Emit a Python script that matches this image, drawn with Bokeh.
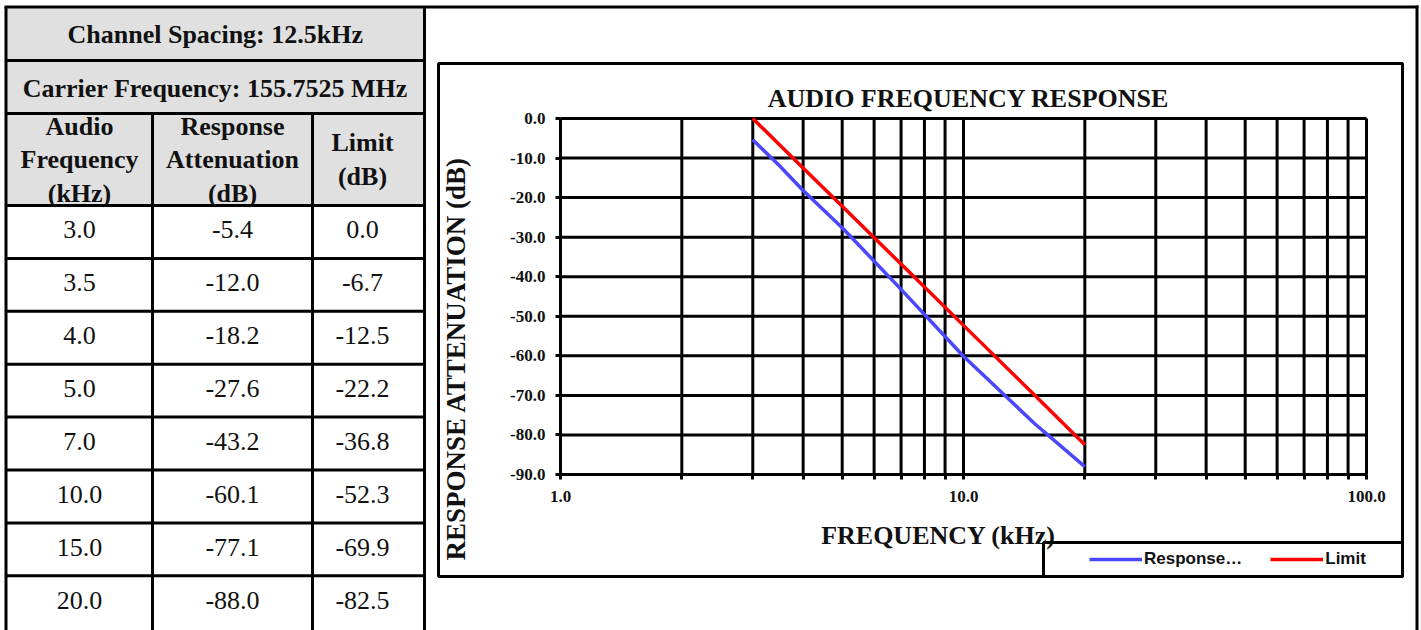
from math import pi, log10
from bokeh.plotting import figure
from bokeh.models import (Range1d, LinearScale, FixedTicker, PrintfTickFormatter, Grid,
                          Label, BoxAnnotation, Legend, LegendItem, LogAxis, LinearAxis)
from bokeh.core.properties import value
from bokeh.embed import file_html
from bokeh.resources import INLINE

# ---------------- data ----------------
channel_spacing = "Channel Spacing: 12.5kHz"
carrier_frequency = "Carrier Frequency: 155.7525 MHz"
col_headers = [["Audio", "Frequency", "(kHz)"],
               ["Response", "Attenuation", "(dB)"],
               ["Limit", "(dB)"]]
freq_khz = [3.0, 3.5, 4.0, 5.0, 7.0, 10.0, 15.0, 20.0]
response_db = [-5.4, -12.0, -18.2, -27.6, -43.2, -60.1, -77.1, -88.0]
limit_db = [0.0, -6.7, -12.5, -22.2, -36.8, -52.3, -69.9, -82.5]
series_names = ["Response\u2026", "Limit"]
x_major_ticks = [1, 10, 100]
x_minor_ticks = [2, 3, 4, 5, 6, 7, 8, 9, 20, 30, 40, 50, 60, 70, 80, 90]
y_ticks = [0, -10, -20, -30, -40, -50, -60, -70, -80, -90]
chart_title = "AUDIO FREQUENCY RESPONSE"
x_title = "FREQUENCY (kHz)"
y_title = "RESPONSE ATTENUATION (dB)"

# ---------------- layout constants (page pixels) ----------------
SERIF = "Liberation Serif"
CAN_L, CAN_R, CAN_T, CAN_B = 0, 1421, 0, 630
PLOT_L, PLOT_R, PLOT_T, PLOT_B = 560, 1366, 118, 474
X_MIN, X_MAX = x_major_ticks[0], x_major_ticks[-1]
Y_MIN, Y_MAX = y_ticks[-1], y_ticks[0]
COL_EDGES = [5.5, 152, 312, 424]
COL_CENTERS = [79, 232, 362]
HEAD_EDGES = [6.5, 60, 113, 205]
ROW_H = 52.9
LW = 3
INK = "#111111"

# main (data) ranges chosen so that the plot area lands on PLOT_* pixels
dec_px = (PLOT_R - PLOT_L) / (log10(X_MAX) - log10(X_MIN))
x_start = 10 ** (log10(X_MIN) - (PLOT_L - CAN_L) / dec_px)
x_end = 10 ** (log10(X_MAX) + (CAN_R - PLOT_R) / dec_px)
db_px = (Y_MAX - Y_MIN) / (PLOT_B - PLOT_T)
y_start = Y_MIN - (CAN_B - PLOT_B) * db_px
y_end = Y_MAX + (PLOT_T - CAN_T) * db_px

p = figure(width=CAN_R - CAN_L, height=CAN_B - CAN_T, title=None,
           x_axis_type="log", x_range=Range1d(x_start, x_end),
           y_range=Range1d(y_start, y_end),
           x_axis_location=None, y_axis_location=None, min_border=0,
           output_backend="svg", toolbar_location=None)
p.min_border_left = p.min_border_right = p.min_border_top = p.min_border_bottom = 0
p.outline_line_color = None
for r in list(p.center):
    if isinstance(r, Grid):
        r.visible = False
p.extra_x_ranges = {"px": Range1d(CAN_L, CAN_R)}
p.extra_y_ranges = {"py": Range1d(CAN_B, CAN_T)}
p.extra_x_scales = {"px": LinearScale()}
p.extra_y_scales = {"py": LinearScale()}
PX = dict(x_range_name="px", y_range_name="py")

# ---------------- table ----------------
p.quad(left=[COL_EDGES[0]], right=[COL_EDGES[-1]], top=[HEAD_EDGES[0]],
       bottom=[HEAD_EDGES[-1]], fill_color="#e0e0e0", line_color=None, **PX)
n = len(freq_khz)
row_edges = [HEAD_EDGES[-1] + i * ROW_H for i in range(n + 1)]
hx0, hx1, hy = [], [], []
for y in HEAD_EDGES[1:] + row_edges[1:-1]:
    hx0.append(COL_EDGES[0]); hx1.append(COL_EDGES[-1]); hy.append(y)
p.segment(x0=hx0, x1=hx1, y0=hy, y1=hy, line_color="black", line_width=LW, **PX)
vx = [COL_EDGES[0], COL_EDGES[-1], COL_EDGES[1], COL_EDGES[2]]
vy0 = [HEAD_EDGES[0], HEAD_EDGES[0], HEAD_EDGES[2], HEAD_EDGES[2]]
vy1 = [CAN_B] * 4
p.segment(x0=vx, x1=vx, y0=vy0, y1=vy1, line_color="black", line_width=LW, **PX)

mid_x = (COL_EDGES[0] + COL_EDGES[-1]) / 2
p.text(x=[mid_x, mid_x], y=[(HEAD_EDGES[0] + HEAD_EDGES[1]) / 2 + 1,
                           (HEAD_EDGES[1] + HEAD_EDGES[2]) / 2 + 1],
       text=[channel_spacing, carrier_frequency], text_align="center",
       text_baseline="middle", text_font=value(SERIF), text_font_style="bold",
       text_font_size="26px", text_color=INK, **PX)
hx, hyy, ht = [], [], []
head_mid = (HEAD_EDGES[2] + HEAD_EDGES[3]) / 2
for c, lines in enumerate(col_headers):
    k = len(lines)
    for j, t in enumerate(lines):
        hx.append(COL_CENTERS[c])
        hyy.append(head_mid + (j - (k - 1) / 2) * 33.5)
        ht.append(t)
p.text(x=hx, y=hyy, text=ht, text_align="center", text_baseline="middle",
       text_font=value(SERIF), text_font_style="bold", text_font_size="26px",
       text_color=INK, **PX)
cx, cy, ct = [], [], []
for i in range(n):
    yc = row_edges[i] + ROW_H / 2 - 2
    for c, v in enumerate([freq_khz[i], response_db[i], limit_db[i]]):
        cx.append(COL_CENTERS[c]); cy.append(yc); ct.append("%.1f" % v)
p.text(x=cx, y=cy, text=ct, text_align="center", text_baseline="middle",
       text_font=value(SERIF), text_font_size="26px", text_color=INK, **PX)

# ---------------- chart ----------------
grid_x = x_major_ticks + x_minor_ticks
p.segment(x0=grid_x, x1=grid_x, y0=[Y_MIN] * len(grid_x), y1=[Y_MAX] * len(grid_x),
          line_color="black", line_width=LW)
p.segment(x0=[X_MIN] * len(y_ticks), x1=[X_MAX] * len(y_ticks), y0=y_ticks, y1=y_ticks,
          line_color="black", line_width=LW)

xt = FixedTicker(ticks=x_major_ticks, minor_ticks=x_minor_ticks)
xaxis = LogAxis(ticker=xt, formatter=PrintfTickFormatter(format="%.1f"),
                fixed_location=Y_MIN, bounds=(X_MIN, X_MAX))
yaxis = LinearAxis(ticker=FixedTicker(ticks=y_ticks), formatter=PrintfTickFormatter(format="%.1f"),
                   fixed_location=X_MIN, bounds=(Y_MIN, Y_MAX))
for ax in (xaxis, yaxis):
    ax.axis_line_color = "black"
    ax.axis_line_width = LW
    ax.major_tick_line_color = "black"
    ax.major_tick_line_width = LW
    ax.minor_tick_line_color = "black"
    ax.minor_tick_line_width = LW
    ax.major_tick_in = 0
    ax.minor_tick_in = 0
    ax.major_tick_out = 5
    ax.minor_tick_out = 5
    ax.major_label_text_font = SERIF
    ax.major_label_text_font_style = "bold"
    ax.major_label_text_font_size = "17px"
    ax.major_label_text_color = INK
yaxis.minor_tick_line_color = None
yaxis.major_label_standoff = 10
xaxis.major_label_standoff = 11
p.add_layout(xaxis, "below")
p.add_layout(yaxis, "left")

r_resp = p.line(freq_khz, response_db, line_color="#4848ff", line_width=3.5)
r_lim = p.line(freq_khz, limit_db, line_color="#ff0000", line_width=3.5)

def pxbox(left, right, top, bottom, fill=None):
    return BoxAnnotation(left=left, right=right, top=top, bottom=bottom, **PX,
                         fill_color=fill if fill else "white",
                         fill_alpha=1 if fill else 0,
                         line_color=None if fill else "black",
                         line_alpha=1, line_width=LW)

p.add_layout(pxbox(438, 1402, 63, 576))                 # chart border
p.add_layout(pxbox(1043, 1402, 542, 576))               # legend box
p.add_layout(pxbox(COL_EDGES[0] - 1.5, 1418, 5, 8, "black"))   # page top rule
p.add_layout(pxbox(1415, 1418, 5, CAN_B, "black"))             # page right rule

def lab(x, y, text, size, angle=0):
    return Label(x=x, y=y, text=text, **PX, angle=angle, text_align="center",
                 text_baseline="middle", text_font=SERIF, text_font_style="bold",
                 text_font_size=size, text_color=INK)

p.add_layout(lab(968, 98, chart_title, "26px"))
p.add_layout(lab(938, 535, x_title, "26px"))
p.add_layout(lab(455, 358, y_title, "27px", angle=pi / 2))

legend = Legend(items=[LegendItem(label=series_names[0], renderers=[r_resp]),
                       LegendItem(label=series_names[1], renderers=[r_lim])],
                orientation="horizontal", location=(1089 - CAN_L, CAN_B - 569),
                padding=0, margin=0, spacing=28, glyph_width=53, glyph_height=20,
                label_height=20, label_standoff=2, border_line_color=None,
                background_fill_alpha=0, label_text_font="Liberation Sans",
                label_text_font_style="bold", label_text_font_size="17px",
                label_text_color=INK, label_text_baseline="middle")
p.add_layout(legend)

open("out.html", "w").write(file_html(p, INLINE))
